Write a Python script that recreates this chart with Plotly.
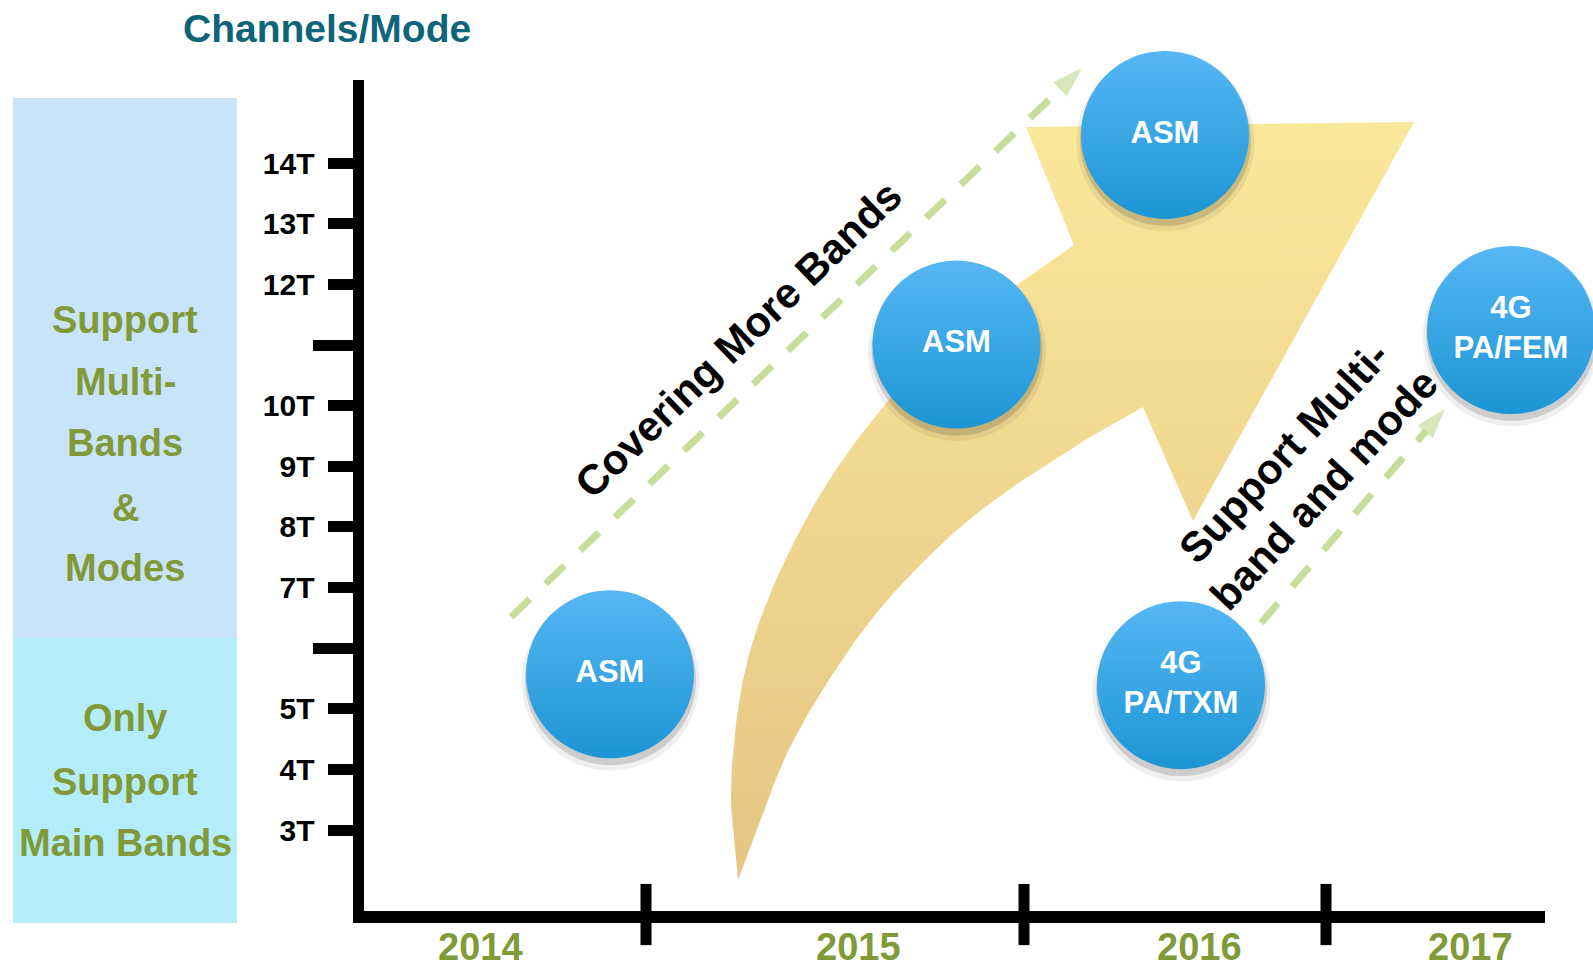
import numpy as np
import plotly.graph_objects as go

# ---------------- data ----------------
channel_ticks = [3, 4, 5, 7, 8, 9, 10, 12, 13, 14]
channel_tick_labels = ["3T", "4T", "5T", "7T", "8T", "9T", "10T", "12T", "13T", "14T"]
unlabeled_ticks = [6, 11]

years = ["2014", "2015", "2016", "2017"]
year_centers = [4.80, 8.58, 11.99, 14.70]      # timeline position
year_bounds = [6.46, 10.24, 13.26]

bubble_labels = ["ASM", "ASM", "ASM", "4G<br>PA/TXM", "4G<br>PA/FEM"]
bubble_x = [6.10, 9.565, 11.65, 11.81, 15.11]
bubble_y = [5.57, 11.01, 14.47, 5.39, 11.25]   # channels (T)

region_top_lines = ["Support", "Multi-", "Bands", "&", "Modes"]
region_top_y = [11.416, 10.393, 9.386, 8.314, 7.323]
region_bottom_lines = ["Only", "Support", "Main Bands"]
region_bottom_y = [4.848, 3.792, 2.785]
region_split = 6.17          # channel level separating the two regions
region_top = 15.08
region_bottom = 1.465

covering_arrow_x = [5.11, 10.82]
covering_arrow_y = [6.515, 15.574]
multiband_arrow_x = [12.61, 14.45]
multiband_arrow_y = [6.416, 9.95]

# big growth arrow outline
growth_outer_x = [7.38, 7.31, 7.43, 7.73, 8.23, 8.83, 9.50, 10.21, 10.74]
growth_outer_y = [2.175, 3.660, 5.475, 7.010, 8.611, 9.980, 11.168, 12.043, 12.653]
growth_head_x = [10.26, 14.14, 11.93, 11.43]
growth_head_y = [14.601, 14.683, 8.099, 9.980]
growth_inner_x = [10.90, 10.23, 9.57, 8.90, 8.40, 7.90, 7.57, 7.38]
growth_inner_y = [9.485, 8.776, 7.950, 6.845, 5.756, 4.370, 3.000, 2.175]

# ---------------- geometry helpers ----------------
X_RANGE = [0.0, 15.93]
Y_RANGE = [0.6568, 16.696]
AX_XDOM = [0.22881, 0.96987]
AX_YDOM = [0.062757, 0.917695]
YEAR_LABEL_LEVEL = 1.069


def sub_range(r, d):
    return [r[0] + d[0] * (r[1] - r[0]), r[0] + d[1] * (r[1] - r[0])]


def catmull(xs, ys, n=12):
    p = np.column_stack([xs, ys]).astype(float)
    p = np.vstack([p[0], p, p[-1]])
    out = []
    for i in range(1, len(p) - 2):
        p0, p1, p2, p3 = p[i - 1], p[i], p[i + 1], p[i + 2]
        for t in np.linspace(0, 1, n, endpoint=False):
            t2, t3 = t * t, t * t * t
            pt = 0.5 * ((2 * p1) + (-p0 + p2) * t + (2 * p0 - 5 * p1 + 4 * p2 - p3) * t2
                        + (-p0 + 3 * p1 - 3 * p2 + p3) * t3)
            out.append(pt)
    out.append(p[-2])
    out = np.array(out)
    return list(out[:, 0]), list(out[:, 1])


FONT = "Liberation Sans, Arial, sans-serif"
OLIVE = "#7F9A36"
GREEN = "#C7DD9B"

fig = go.Figure()

# growth arrow
ox, oy = catmull(growth_outer_x, growth_outer_y)
ix, iy = catmull(growth_inner_x, growth_inner_y)
ax_ = ox + growth_head_x + ix
ay_ = oy + growth_head_y + iy
fig.add_trace(go.Scatter(
    x=ax_, y=ay_, mode="lines", fill="toself", line=dict(width=0),
    fillcolor="#F3DC8E",
    fillgradient=dict(type="vertical", colorscale=[[0, "#E6C583"], [1, "#FAE89A"]]),
    hoverinfo="skip", showlegend=False))

# dashed trend arrows
for xs, ys in [(covering_arrow_x, covering_arrow_y), (multiband_arrow_x, multiband_arrow_y)]:
    fig.add_trace(go.Scatter(
        x=xs, y=ys, mode="lines+markers",
        line=dict(color=GREEN, width=7, dash="26px,22px"),
        marker=dict(symbol="arrow", size=[0, 32], color=GREEN, angleref="previous",
                    line=dict(width=0)),
        hoverinfo="skip", showlegend=False, cliponaxis=False))

# bubble shadows
for s, a, dy in [(178, 0.07, 0.12), (171, 0.16, 0.09)]:
    fig.add_trace(go.Scatter(
        x=[v + 0.005 for v in bubble_x], y=[v - dy for v in bubble_y], mode="markers",
        marker=dict(size=s, color=f"rgba(30,30,30,{a})", line=dict(width=0)),
        hoverinfo="skip", showlegend=False, cliponaxis=False))

# bubbles
fig.add_trace(go.Scatter(
    x=bubble_x, y=bubble_y, mode="markers+text", text=bubble_labels,
    textposition="middle center",
    textfont=dict(family=FONT, size=31, color="white", weight="bold"),
    marker=dict(size=168, color="#56B7F4",
                gradient=dict(type="vertical", color="#1C95D5"),
                line=dict(width=0)),
    hoverinfo="skip", showlegend=False, cliponaxis=False))

# invisible trace for the axis subplot
fig.add_trace(go.Scatter(x=[year_centers[0]], y=[channel_ticks[0]], xaxis="x2", yaxis="y2",
                         mode="markers", marker=dict(opacity=0), hoverinfo="skip",
                         showlegend=False))

shapes = []
# region boxes
shapes.append(dict(type="rect", xref="x", yref="y", x0=0.13, x1=2.37, y0=region_split,
                   y1=region_top, fillcolor="#C9E3F8", line=dict(width=0), layer="below"))
shapes.append(dict(type="rect", xref="x", yref="y", x0=0.13, x1=2.37, y0=region_bottom,
                   y1=region_split, fillcolor="#B4ECFA", line=dict(width=0), layer="below"))
# year boundary ticks crossing the time axis
for b in year_bounds:
    shapes.append(dict(type="line", xref="x", yref="y", x0=b, x1=b, y0=1.10, y1=2.11,
                       line=dict(color="black", width=11), layer="above"))

annotations = []
for txt, yy in zip(region_top_lines, region_top_y):
    annotations.append(dict(x=1.25, y=yy, xref="x", yref="y", text=txt, showarrow=False,
                            font=dict(family=FONT, size=38, color=OLIVE, weight="bold")))
for txt, yy in zip(region_bottom_lines, region_bottom_y):
    annotations.append(dict(x=1.25, y=yy, xref="x", yref="y", text=txt, showarrow=False,
                            font=dict(family=FONT, size=38, color=OLIVE, weight="bold")))
for txt, xx in zip(years, year_centers):
    annotations.append(dict(x=xx, y=YEAR_LABEL_LEVEL, xref="x", yref="y", text=txt,
                            showarrow=False, yanchor="middle", borderpad=0,
                            font=dict(family=FONT, size=38, color=OLIVE, weight="bold")))
annotations.append(dict(x=3.265, y=16.218, xref="x", yref="y", text="Channels/Mode",
                        showarrow=False,
                        font=dict(family=FONT, size=39, color="#0E6479", weight="bold")))
annotations.append(dict(x=7.38, y=11.10, xref="x", yref="y", text="Covering More Bands",
                        showarrow=False, textangle=-44,
                        font=dict(family=FONT, size=42, color="black", weight="bold")))
annotations.append(dict(x=13.04, y=8.924, xref="x", yref="y",
                        text="Support Multi-<br>band and mode", showarrow=False,
                        textangle=-47,
                        font=dict(family=FONT, size=42, color="black", weight="bold")))

fig.update_layout(
    width=1593, height=972, autosize=False,
    margin=dict(l=0, r=0, t=0, b=0, pad=0, autoexpand=False),
    paper_bgcolor="white", plot_bgcolor="rgba(0,0,0,0)",
    showlegend=False,
    shapes=shapes, annotations=annotations,
    xaxis=dict(range=X_RANGE, domain=[0, 1], visible=False, fixedrange=True,
               automargin=False),
    yaxis=dict(range=Y_RANGE, domain=[0, 1], visible=False, fixedrange=True,
               automargin=False),
    xaxis2=dict(domain=AX_XDOM, range=sub_range(X_RANGE, AX_XDOM), anchor="y2",
                showline=True, linewidth=12, linecolor="black", showgrid=False,
                zeroline=False, ticks="", showticklabels=False, automargin=False,
                fixedrange=True),
    yaxis2=dict(domain=AX_YDOM, range=sub_range(Y_RANGE, AX_YDOM), anchor="x2",
                showline=True, linewidth=11, linecolor="black", showgrid=False,
                zeroline=False, ticks="outside", ticklen=25, tickwidth=11,
                tickcolor="black", tickmode="array", tickvals=channel_ticks,
                ticktext=channel_tick_labels, ticklabelstandoff=8, automargin=False,
                tickfont=dict(family=FONT, size=30, color="black", weight="bold"),
                minor=dict(tickmode="array", tickvals=unlabeled_ticks, ticks="outside",
                           ticklen=40, tickwidth=11, tickcolor="black", showgrid=False),
                fixedrange=True),
)

fig.write_html(
    "out.html",
    config={"displayModeBar": False, "responsive": False},
    post_script="document.body.style.margin='0px';document.body.style.overflow='hidden';",
)
